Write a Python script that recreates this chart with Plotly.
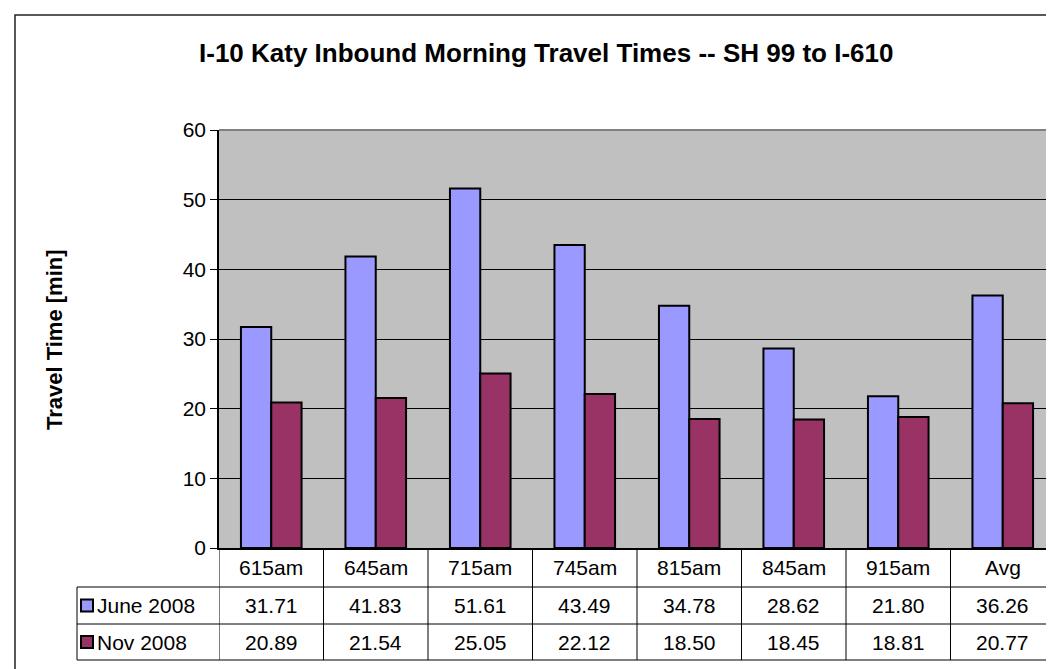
import plotly.graph_objects as go

categories = ["615am", "645am", "715am", "745am", "815am", "845am", "915am", "Avg"]
june_2008 = [31.71, 41.83, 51.61, 43.49, 34.78, 28.62, 21.80, 36.26]
nov_2008 = [20.89, 21.54, 25.05, 22.12, 18.50, 18.45, 18.81, 20.77]
series_names = ["June 2008", "Nov 2008"]
title_text = "I-10 Katy Inbound Morning Travel Times -- SH 99 to I-610"
y_title = "Travel Time [min]"

W, H = 1054, 669
L, R, T, B = 211, 1047, 122, 540
PW, PH = R - L, B - T

def px(x):
    return (x - L) / PW

def py(y):
    return (B - y) / PH

FONT = "Liberation Sans, Arial, sans-serif"
JUNE_C = "#9999FF"
NOV_C = "#993366"

idx = list(range(len(categories)))

fig = go.Figure()
fig.add_trace(go.Bar(x=idx, y=june_2008, name=series_names[0], marker=dict(color=JUNE_C, line=dict(color="black", width=2))))
fig.add_trace(go.Bar(x=idx, y=nov_2008, name=series_names[1], marker=dict(color=NOV_C, line=dict(color="black", width=2))))

shapes = []
annotations = []

# table geometry (pixels)
row_lines = [579, 616, 652]
legend_left = 69
for yy in row_lines:
    shapes.append(dict(type="line", xref="paper", yref="paper", x0=px(legend_left), x1=px(R), y0=py(yy), y1=py(yy), line=dict(color="black", width=1)))
for k in range(len(categories) + 1):
    shapes.append(dict(type="line", xref="x", yref="paper", x0=k - 0.5, x1=k - 0.5, y0=py(B), y1=py(row_lines[-1]), line=dict(color="black", width=1)))
shapes.append(dict(type="line", xref="paper", yref="paper", x0=px(legend_left), x1=px(legend_left), y0=py(row_lines[0]), y1=py(row_lines[-1]), line=dict(color="black", width=1)))

# plot area border (top & right gray)
shapes.append(dict(type="line", xref="paper", yref="paper", x0=0, x1=1, y0=1, y1=1, line=dict(color="#808080", width=2)))
shapes.append(dict(type="line", xref="paper", yref="paper", x0=1, x1=1, y0=0, y1=1, line=dict(color="#808080", width=2)))

# outer chart border
shapes.append(dict(type="rect", xref="paper", yref="paper", x0=px(7), x1=px(1062), y0=py(680), y1=py(7), line=dict(color="#222222", width=1.5)))

row_centers = [(B + row_lines[0]) / 2, (row_lines[0] + row_lines[1]) / 2, (row_lines[1] + row_lines[2]) / 2]
tf = dict(family=FONT, size=21, color="black")
for k, c in enumerate(categories):
    annotations.append(dict(x=k, xref="x", y=py(row_centers[0]), yref="paper", text=c, showarrow=False, font=tf, yanchor="middle"))
    annotations.append(dict(x=k, xref="x", y=py(row_centers[1]), yref="paper", text=f"{june_2008[k]:.2f}", showarrow=False, font=tf, yanchor="middle"))
    annotations.append(dict(x=k, xref="x", y=py(row_centers[2]), yref="paper", text=f"{nov_2008[k]:.2f}", showarrow=False, font=tf, yanchor="middle"))

# legend keys
for name, col, rc in [(series_names[0], JUNE_C, row_centers[1]), (series_names[1], NOV_C, row_centers[2])]:
    shapes.append(dict(type="rect", xref="paper", yref="paper", x0=px(73), x1=px(85), y0=py(rc + 6), y1=py(rc - 6), fillcolor=col, line=dict(color="black", width=2)))
    annotations.append(dict(x=px(87), xref="paper", y=py(rc), yref="paper", text=name, showarrow=False, font=tf, xanchor="left", yanchor="middle"))

# title
annotations.append(dict(x=px(537.5), xref="paper", y=py(45), yref="paper", text="<b>" + title_text + "</b>", showarrow=False, font=dict(family=FONT, size=26, color="black"), xanchor="center", yanchor="middle"))
# y axis title
annotations.append(dict(x=px(46), xref="paper", y=py(332), yref="paper", text="<b>" + y_title + "</b>", showarrow=False, textangle=-90, font=dict(family=FONT, size=22, color="black"), xanchor="center", yanchor="middle"))

fig.update_layout(
    width=W, height=H,
    margin=dict(l=L, r=W - R, t=T, b=H - B, pad=0),
    paper_bgcolor="white", plot_bgcolor="#C0C0C0",
    barmode="group", bargap=0.42, bargroupgap=0,
    showlegend=False,
    shapes=shapes, annotations=annotations,
    font=dict(family=FONT, color="black"),
)
fig.update_xaxes(range=[-0.5, len(categories) - 0.5], showticklabels=False, showgrid=False, zeroline=False,
                 showline=True, linecolor="black", linewidth=1.5, ticks="", fixedrange=True)
fig.update_yaxes(range=[0, 60], dtick=10, showgrid=True, gridcolor="black", gridwidth=1, zeroline=False,
                 showline=True, linecolor="black", linewidth=1.5, ticks="outside", ticklen=7, tickcolor="black",
                 tickfont=dict(family=FONT, size=21, color="black"))

fig.write_html("out.html")
